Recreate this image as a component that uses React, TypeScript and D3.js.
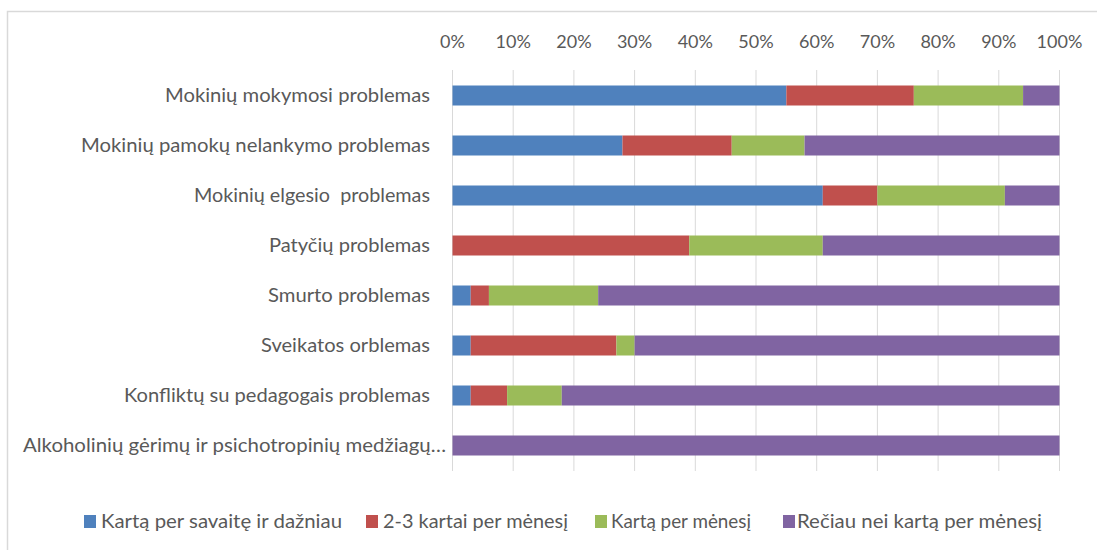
import React from "react";
import * as d3 from "d3";

const categories = [
  "Mokinių mokymosi problemas",
  "Mokinių pamokų nelankymo problemas",
  "Mokinių elgesio  problemas",
  "Patyčių problemas",
  "Smurto problemas",
  "Sveikatos orblemas",
  "Konfliktų su pedagogais problemas",
  "Alkoholinių gėrimų ir psichotropinių medžiagų…",
];
const labelWidths = [265, 349, 236, 161, 162, 169, 306, 423];

const seriesNames = [
  "Kartą per savaitę ir dažniau",
  "2-3 kartai per mėnesį",
  "Kartą per mėnesį",
  "Rečiau nei kartą per mėnesį",
];
const seriesColors = ["#4f81bd", "#c0504d", "#9bbb59", "#8064a2"];

const weekly = [55, 28, 61, 0, 3, 3, 3, 0];
const twoThree = [21, 18, 9, 39, 3, 24, 6, 0];
const monthly = [18, 12, 21, 22, 18, 3, 9, 0];
const rarely = [6, 42, 9, 39, 76, 70, 82, 100];

const tickValues = [0, 10, 20, 30, 40, 50, 60, 70, 80, 90, 100];

const legendSquareX = [84, 366, 595, 783];
const legendTextX = [101, 383, 611, 797];
const legendTextW = [241, 185, 140, 245];

export default function App() {
  const W = 1097, H = 550;
  const x = d3.scaleLinear().domain([0, 100]).range([452.5, 1059.5]);
  const y = d3.scaleBand<string>().domain(categories).range([70.5, 470.5]).paddingInner(0.6).paddingOuter(0.3);

  const rows = categories.map((c, i) => ({ c, v: [weekly[i], twoThree[i], monthly[i], rarely[i]] }));
  const stack = d3.stack<any>().keys(["0", "1", "2", "3"]).value((d: any, k: string) => d.v[+k]);
  const stacked = stack(rows as any);

  const txt = "#595959";
  const font = "Lato, 'Open Sans', sans-serif";

  return (
    <svg width={W} height={H} style={{ position: "absolute", left: 0, top: 0, display: "block" }} fontFamily={font}>
      <rect x={0} y={0} width={W} height={H} fill="#fff" />
      <path d={`M7.5,${H + 5} V11.5 H${W + 5}`} fill="none" stroke="#d9d9d9" strokeWidth={1.5} />
      {tickValues.map((t) => (
        <g key={t}>
          <line x1={x(t)} x2={x(t)} y1={70} y2={471} stroke="#d9d9d9" strokeWidth={1} />
          <text x={x(t)} y={48} textAnchor="middle" fontSize={18} fill={txt}>{t}%</text>
        </g>
      ))}
      {stacked.map((s, si) => (
        <g key={si} fill={seriesColors[si]}>
          {s.map((d: any, i: number) => {
            const w = x(d[1]) - x(d[0]);
            if (w <= 0) return null;
            return <rect key={i} x={x(d[0])} y={y(categories[i])!} width={w} height={y.bandwidth()} />;
          })}
        </g>
      ))}
      {categories.map((c, i) => (
        <text key={c} x={i === 7 ? 446 : 430} y={y(c)! + y.bandwidth() / 2 + 6} textAnchor="end" fontSize={19} fill={txt}
          textLength={labelWidths[i]} lengthAdjust="spacingAndGlyphs" xmlSpace="preserve">{c}</text>
      ))}
      {seriesNames.map((n, i) => (
        <g key={n}>
          <rect x={legendSquareX[i]} y={515} width={12} height={13} fill={seriesColors[i]} />
          <text x={legendTextX[i]} y={528} fontSize={20} fill={txt} textLength={legendTextW[i]} lengthAdjust="spacingAndGlyphs">{n}</text>
        </g>
      ))}
    </svg>
  );
}
